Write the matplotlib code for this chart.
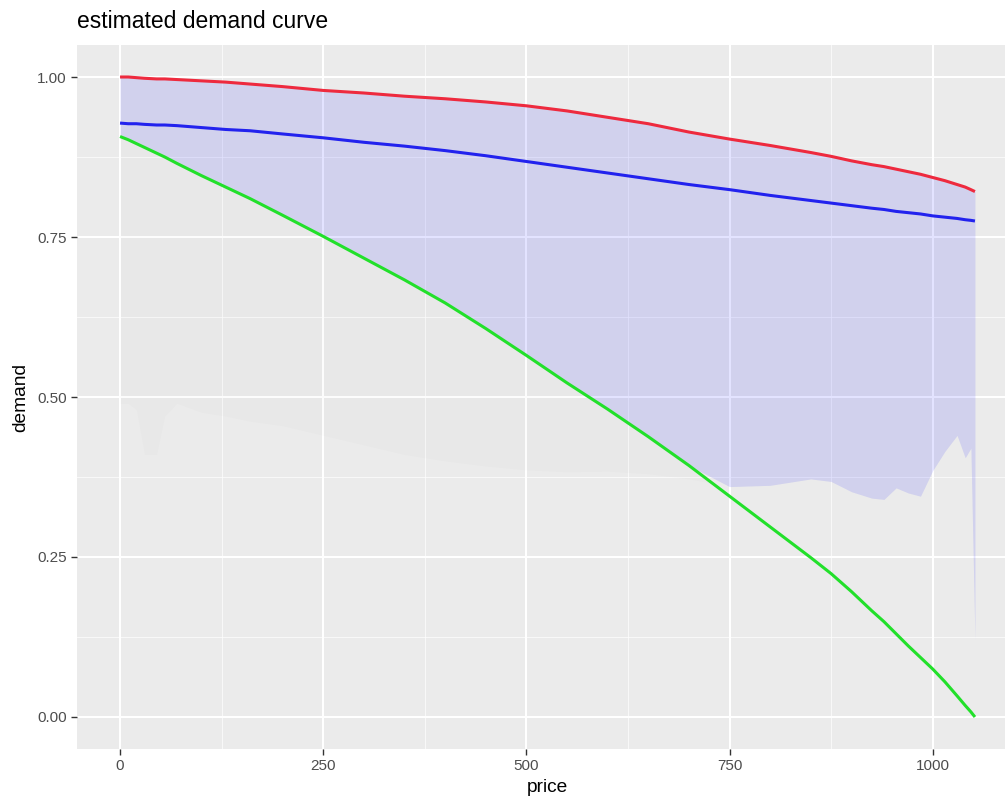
import numpy as np
import matplotlib
matplotlib.use("Agg")
import matplotlib.pyplot as plt
from matplotlib.ticker import FixedLocator

# ---- data ----
price = [0, 10, 20, 30, 45, 55, 70, 100, 130, 160, 200, 250, 300, 350, 400, 450,
         500, 550, 600, 650, 700, 750, 800, 850, 875, 900, 925, 940, 955, 970,
         985, 1000, 1015, 1030, 1040, 1047, 1052]
upper = [1.000, 1.000, 0.999, 0.998, 0.997, 0.997, 0.996, 0.994, 0.992, 0.989,
         0.985, 0.979, 0.975, 0.970, 0.966, 0.961, 0.955, 0.947, 0.937, 0.927,
         0.914, 0.903, 0.893, 0.882, 0.876, 0.869, 0.863, 0.860, 0.856, 0.852,
         0.848, 0.843, 0.838, 0.832, 0.828, 0.824, 0.821]
middle = [0.928, 0.927, 0.927, 0.926, 0.925, 0.925, 0.924, 0.921, 0.918, 0.916,
          0.911, 0.905, 0.898, 0.892, 0.885, 0.877, 0.868, 0.859, 0.850, 0.841,
          0.832, 0.824, 0.815, 0.807, 0.803, 0.799, 0.795, 0.793, 0.790, 0.788,
          0.786, 0.783, 0.781, 0.779, 0.777, 0.776, 0.775]
green = [0.907, 0.902, 0.896, 0.890, 0.881, 0.875, 0.865, 0.846, 0.828, 0.810,
         0.784, 0.751, 0.717, 0.683, 0.647, 0.607, 0.565, 0.522, 0.481, 0.438,
         0.393, 0.345, 0.297, 0.249, 0.224, 0.196, 0.166, 0.149, 0.130, 0.111,
         0.093, 0.075, 0.055, 0.033, 0.018, 0.008, 0.000]
lower = [0.490, 0.490, 0.480, 0.410, 0.410, 0.470, 0.490, 0.476, 0.470, 0.462,
         0.455, 0.440, 0.425, 0.410, 0.400, 0.392, 0.386, 0.383, 0.384, 0.380,
         0.372, 0.360, 0.362, 0.372, 0.368, 0.352, 0.342, 0.340, 0.358, 0.350,
         0.345, 0.385, 0.415, 0.440, 0.405, 0.420, 0.120]

x_ticks = [0, 250, 500, 750, 1000]
x_minor = [125, 375, 625, 875]
y_ticks = [0.00, 0.25, 0.50, 0.75, 1.00]
y_minor = [0.125, 0.375, 0.625, 0.875]
y_labels = ["0.00", "0.25", "0.50", "0.75", "1.00"]

plt.rcParams['font.family'] = ['Liberation Sans', 'DejaVu Sans']

W, H = 1005, 798
fig = plt.figure(figsize=(W / 100, H / 100), dpi=100)
ax = fig.add_axes([77.3 / W, (H - 749) / H, 940.4 / W, 704 / H])
ax.set_facecolor('#EBEBEB')

x = np.array(price)
U = np.array(upper)
G = np.array(green)
L = np.array(lower)

# very faint gray ribbon between lower bound and green where green is above
ax.fill_between(x, L, G, where=G >= L, interpolate=True, color='black',
                alpha=0.013, linewidth=0, zorder=2)
# lavender ribbon
ax.fill_between(x, np.maximum(L, G), U, color='blue', alpha=0.11,
                linewidth=0, zorder=2)

ax.plot(x, upper, color='#EE2A3E', lw=2.2, zorder=4, solid_capstyle='butt')
ax.plot(x, middle, color='#2222EE', lw=2.2, zorder=4, solid_capstyle='butt')
ax.plot(x, green, color='#22E02A', lw=2.2, zorder=4, solid_capstyle='butt')

xmax = max(price)
ax.set_xlim(-0.05 * xmax, 1.05 * xmax)
ax.set_ylim(-0.05, 1.05)

ax.xaxis.set_major_locator(FixedLocator(x_ticks))
ax.xaxis.set_minor_locator(FixedLocator(x_minor))
ax.yaxis.set_major_locator(FixedLocator(y_ticks))
ax.yaxis.set_minor_locator(FixedLocator(y_minor))
ax.set_yticklabels(y_labels)

ax.grid(which='major', color='white', lw=1.5, zorder=1)
ax.grid(which='minor', color='white', lw=0.6, alpha=0.8, zorder=1)
ax.set_axisbelow(True)

for s in ax.spines.values():
    s.set_visible(False)

ax.tick_params(which='major', length=4.5, width=1.0, color='#333333',
               labelsize=11, labelcolor='#4D4D4D', pad=3)
ax.tick_params(which='minor', length=0)

ax.set_xlabel('price', fontsize=13.8, color='black', labelpad=4)
ax.set_ylabel('demand', fontsize=13.8, color='black', labelpad=6)
ax.set_title('estimated demand curve', fontsize=16.5, color='black',
             loc='left', x=0.0, pad=12)

fig.savefig('out.png', dpi=100)
